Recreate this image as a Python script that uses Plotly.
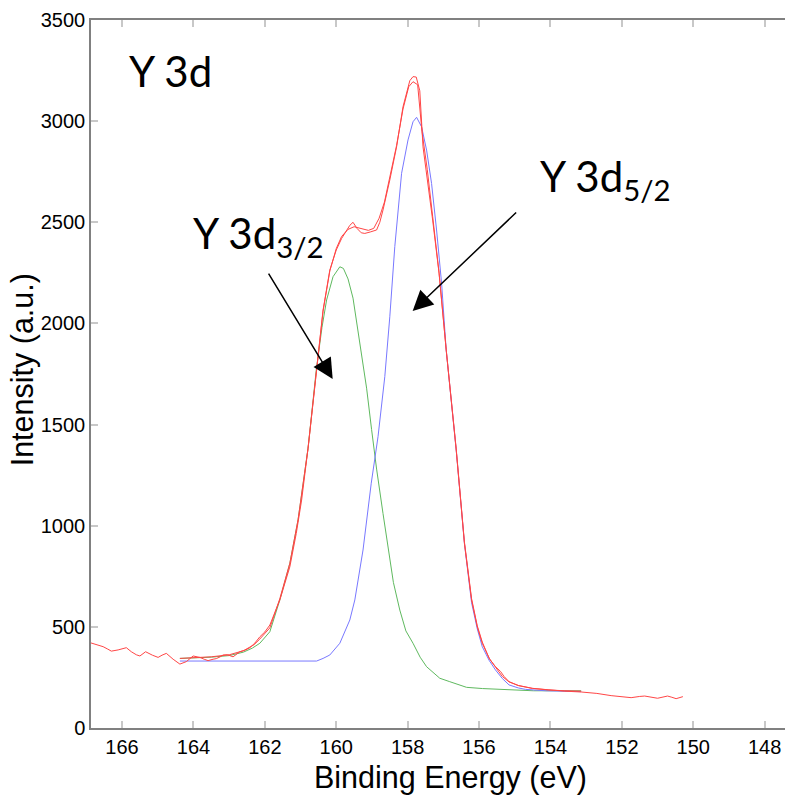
import plotly.graph_objects as go

# --- Y 3d core-level XPS spectrum -------------------------------------------
# Measured spectrum (binding energy in eV, intensity in a.u.)
raw_be = [166.88, 166.70, 166.53, 166.40, 166.30, 166.11, 165.88, 165.74, 165.60,
          165.50, 165.34, 165.15, 164.99, 164.88, 164.76, 164.57, 164.38, 164.20,
          164.01, 163.90, 163.82, 163.70, 163.59, 163.45, 163.36, 163.25, 163.17,
          163.05, 162.89, 162.70, 162.55, 162.42, 162.28, 162.14, 162.00, 161.86,
          161.72, 161.58, 161.44, 161.30, 161.12, 160.97, 160.79, 160.65, 160.56,
          160.37, 160.18, 160.00, 159.85, 159.71, 159.62, 159.53, 159.42, 159.30,
          159.20, 159.05, 158.87, 158.78, 158.69, 158.50, 158.31, 158.13, 157.94,
          157.85, 157.76, 157.66, 157.57, 157.30, 157.12, 156.92, 156.64, 156.41,
          156.21, 156.05, 155.91, 155.70, 155.54, 155.40, 155.30, 155.16, 154.90,
          154.51, 154.05, 153.60, 153.14, 152.70, 152.30, 152.02, 151.74, 151.50,
          151.36, 151.00, 150.72, 150.60, 150.48, 150.29]
raw_int = [421, 410, 402, 390, 380, 386, 397, 377, 362,
           356, 377, 360, 349, 360, 369, 340, 316, 328,
           356, 352, 349, 340, 333, 340, 343, 352, 361,
           362, 352, 377, 385, 397, 420, 451, 475, 509,
           570, 633, 715, 797, 962, 1127, 1383, 1600, 1770,
           2066, 2264, 2363, 2420, 2462, 2485, 2500, 2470, 2448,
           2445, 2452, 2462, 2500, 2561, 2709, 2873, 3071, 3200,
           3220, 3218, 3150, 2873, 2511, 2248, 1868, 1374, 913,
           633, 500, 419, 340, 303, 280, 255, 229, 210,
           196, 188, 182, 178, 171, 160, 155, 150, 156,
           158, 147, 158, 152, 145, 155]

# Fitted envelope (sum of components)
env_be = [164.38, 164.00, 163.50, 163.00, 162.60, 162.30, 162.14, 161.86, 161.58,
          161.30, 161.07, 160.79, 160.56, 160.37, 160.18, 160.00, 159.85, 159.67,
          159.50, 159.30, 159.10, 158.95, 158.80, 158.65, 158.50, 158.31, 158.13,
          157.97, 157.85, 157.72, 157.60, 157.45, 157.30, 157.12, 156.92, 156.64,
          156.41, 156.21, 156.05, 155.91, 155.72, 155.54, 155.35, 155.16, 154.90,
          154.51, 154.05, 153.60, 153.14]
env_int = [344, 347, 352, 362, 382, 412, 440, 495, 640,
           815, 1030, 1383, 1770, 2060, 2260, 2370, 2430, 2465,
           2478, 2470, 2460, 2470, 2520, 2600, 2720, 2880, 3060,
           3170, 3195, 3180, 2950, 2760, 2530, 2250, 1870, 1380,
           920, 640, 505, 425, 345, 300, 255, 228, 210,
           196, 188, 184, 182]

# Y 3d3/2 component (with background)
y32_be = [164.38, 164.00, 163.50, 163.00, 162.60, 162.35, 162.14, 161.86, 161.58,
          161.30, 161.07, 160.79, 160.56, 160.40, 160.27, 160.09, 159.90, 159.80,
          159.67, 159.53, 159.34, 159.15, 159.01, 158.87, 158.69, 158.55, 158.40,
          158.22, 158.05, 157.85, 157.65, 157.47, 157.10, 156.82, 156.54, 156.35,
          155.90, 155.41, 154.48, 153.14]
y32_int = [344, 346, 350, 358, 375, 395, 419, 476, 633,
           814, 1028, 1383, 1770, 1980, 2116, 2231, 2280, 2272,
           2220, 2125, 1905, 1680, 1475, 1280, 1060, 896, 720,
           583, 480, 419, 350, 303, 246, 229, 213, 201,
           195, 191, 184, 184]

# Y 3d5/2 component (with background)
y52_be = [164.38, 160.55, 160.37, 160.18, 159.90, 159.62, 159.48, 159.25, 159.02,
          158.83, 158.64, 158.50, 158.36, 158.17, 157.99, 157.85, 157.75, 157.61,
          157.47, 157.33, 157.19, 157.05, 156.92, 156.78, 156.64, 156.41, 156.21,
          156.05, 155.91, 155.72, 155.54, 155.35, 155.16, 154.90, 154.70, 154.14,
          153.14]
y52_int = [331, 331, 344, 361, 419, 534, 633, 880, 1210,
           1440, 1737, 2033, 2380, 2742, 2907, 2997, 3019, 2972,
           2857, 2692, 2462, 2200, 1868, 1620, 1374, 913, 620,
           490, 402, 335, 287, 245, 213, 198, 191, 184,
           180]

x_ticks = [166, 164, 162, 160, 158, 156, 154, 152, 150, 148]
y_ticks = [0, 500, 1000, 1500, 2000, 2500, 3000, 3500]

RED = "rgb(255,70,70)"
GREEN = "rgb(95,185,95)"
BLUE = "rgb(120,120,255)"

fig = go.Figure()
fig.add_trace(go.Scatter(x=y32_be, y=y32_int, mode="lines",
                         line=dict(color=GREEN, width=1), name="Y 3d3/2"))
fig.add_trace(go.Scatter(x=y52_be, y=y52_int, mode="lines",
                         line=dict(color=BLUE, width=1), name="Y 3d5/2"))
fig.add_trace(go.Scatter(x=env_be, y=env_int, mode="lines",
                         line=dict(color=RED, width=1), name="Envelope"))
fig.add_trace(go.Scatter(x=raw_be, y=raw_int, mode="lines",
                         line=dict(color=RED, width=1), name="Data"))

label_font = dict(family="Lato, Open Sans, sans-serif", size=42, color="black")
axis_font = dict(family="Liberation Sans, Arial, sans-serif", size=30.5, color="black")

annotations = [
    dict(x=165.86, y=3248, xref="x", yref="y", text="Y 3d", showarrow=False,
         xanchor="left", yanchor="middle", font=label_font),
    dict(x=164.06, y=2430, xref="x", yref="y", text="Y 3d<sub>3/2</sub>",
         showarrow=False, xanchor="left", yanchor="middle", font=label_font),
    dict(x=154.36, y=2715, xref="x", yref="y", text="Y 3d<sub>5/2</sub>",
         showarrow=False, xanchor="left", yanchor="middle", font=label_font),
    # arrows pointing at the two spin-orbit components
    dict(x=160.10, y=1725, xref="x", yref="y", text="", showarrow=True,
         ax=-65, ay=-107, arrowhead=2, arrowsize=2.7, arrowwidth=1.5,
         arrowcolor="black"),
    dict(x=157.86, y=2061, xref="x", yref="y", text="", showarrow=True,
         ax=105, ay=-100, arrowhead=2, arrowsize=2.7, arrowwidth=1.5,
         arrowcolor="black"),
    # axis titles
    dict(x=0.5187, y=-0.0706, xref="paper", yref="paper",
         text="Binding Energy (eV)", showarrow=False,
         xanchor="center", yanchor="middle", font=axis_font),
    dict(x=-0.099, y=0.5056, xref="paper", yref="paper",
         text="Intensity (a.u.)", showarrow=False, textangle=-90,
         xanchor="center", yanchor="middle", font=axis_font),
]

fig.update_layout(
    width=785, height=796,
    margin=dict(l=91, r=0, t=20, b=68),
    paper_bgcolor="white", plot_bgcolor="white",
    showlegend=False,
    annotations=annotations,
    font=dict(family="Liberation Sans, Arial, sans-serif", size=20, color="black"),
)
fig.update_xaxes(
    range=[166.87, 147.43], tickvals=x_ticks,
    ticks="inside", ticklen=7, tickwidth=1.5, tickcolor="#c8c8c8",
    showline=True, linecolor="#808080", linewidth=1.5, mirror="ticks",
    showgrid=False, zeroline=False,
    tickfont=dict(size=20, color="black"),
)
fig.update_yaxes(
    range=[0, 3500], tickvals=y_ticks,
    ticks="inside", ticklen=7, tickwidth=1.5, tickcolor="#c8c8c8",
    showline=True, linecolor="#808080", linewidth=1.5, mirror=False,
    showgrid=False, zeroline=False,
    tickfont=dict(size=20, color="black"),
)

fig.write_html("out.html")
